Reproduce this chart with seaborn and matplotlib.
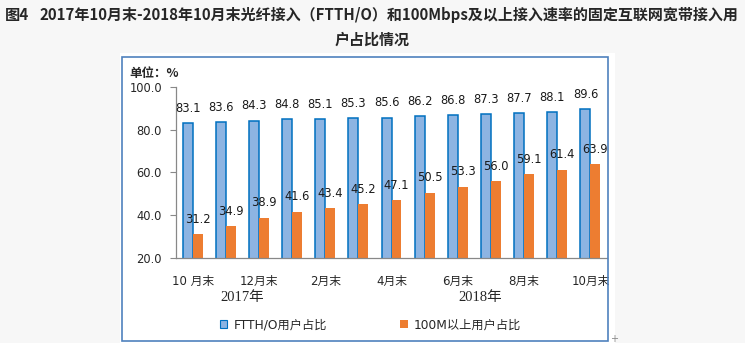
import matplotlib
matplotlib.use("Agg")
import matplotlib.pyplot as plt
import matplotlib.patches as mpatches
import matplotlib.transforms as mtrans
import seaborn as sns
import pandas as pd

# ---- data ----
months = ["10月末", "11月末", "12月末", "1月末", "2月末", "3月末", "4月末",
          "5月末", "6月末", "7月末", "8月末", "9月末", "10月末"]
tick_labels = ["10 月末", "", "12月末", "", "2月末", "", "4月末", "", "6月末", "",
               "8月末", "", "10月末"]
years = ["2017年", "2018年"]
ftth = [83.1, 83.6, 84.3, 84.8, 85.1, 85.3, 85.6, 86.2, 86.8, 87.3, 87.7, 88.1, 89.6]
m100 = [31.2, 34.9, 38.9, 41.6, 43.4, 45.2, 47.1, 50.5, 53.3, 56.0, 59.1, 61.4, 63.9]
series_names = ["FTTH/O用户占比", "100M以上用户占比"]

W, H = 745, 343
sns.set_theme(style="white")
plt.rcParams["font.family"] = ["DejaVu Sans", "Noto Sans CJK SC"]

cats = [f"{i}" for i in range(len(months))]
df = pd.DataFrame({
    "cat": cats * 2,
    "value": ftth + m100,
    "series": [series_names[0]] * len(cats) + [series_names[1]] * len(cats),
})

fig = plt.figure(figsize=(W / 100, H / 100), dpi=100)
fig.patch.set_facecolor("#f7f7f7")

# white chart panel + border
fig.add_artist(mpatches.Rectangle((120 / W, 0), (615 - 120) / W, (H - 53) / H,
                                  transform=fig.transFigure, facecolor="white",
                                  edgecolor="none", zorder=0))
fig.add_artist(mpatches.Rectangle((122 / W, 2 / H), (608 - 122) / W, (341 - 57) / H,
                                  transform=fig.transFigure, facecolor="none",
                                  edgecolor="#4f81bd", lw=1.2, zorder=1))

ax = fig.add_axes([176 / W, 1 - 258 / H, (607 - 176) / W, (258 - 87) / H])
ax.set_facecolor("none")

sns.barplot(data=df, x="cat", y="value", hue="series", order=cats,
            hue_order=series_names, palette=["#8db4e2", "#ed7d31"],
            width=0.6, saturation=1, ax=ax, legend=False)

# edges
for p in ax.containers[0]:
    p.set_edgecolor("#0070c0")
    p.set_linewidth(1.1)
for p in ax.containers[1]:
    p.set_edgecolor("none")

for c in ax.containers:
    ax.bar_label(c, fmt="%.1f", padding=6, fontsize=8.3, color="#1a1a1a")

ax.set_ylim(20, 100)
ax.set_yticks([20, 40, 60, 80, 100])
ax.set_yticklabels([f"{v:.1f}" for v in [20, 40, 60, 80, 100]], fontsize=8.3)
ax.set_xlim(-0.5, len(cats) - 0.5)
ax.set_xticks(range(len(cats)))
ax.set_xticklabels(tick_labels, fontsize=8.5)
ax.set_xticks([i - 0.5 for i in range(len(cats) + 1)], minor=True)
ax.tick_params(axis="x", which="major", length=0, pad=12)
ax.tick_params(axis="x", which="minor", length=5, width=0.8, color="#888888", direction="out")
ax.tick_params(axis="y", length=4, width=0.8, color="#888888", direction="out", pad=6, left=True)
ax.set_xlabel("")
ax.set_ylabel("")
for s in ["top", "right"]:
    ax.spines[s].set_visible(False)
for s in ["left", "bottom"]:
    ax.spines[s].set_color("#888888")
    ax.spines[s].set_linewidth(0.9)

# year labels (second level of category axis)
blend = mtrans.blended_transform_factory(ax.transData, fig.transFigure)
for yl, xp in zip(years, [1.49, 8.67]):
    ax.text(xp, 1 - 298 / H, yl, transform=blend, ha="center", va="center",
            fontsize=10.5, family=["Liberation Serif", "Noto Sans CJK SC"])

# unit label
fig.text(129 / W, 1 - 73 / H, "单位：%", ha="left", va="center", fontsize=9,
         fontweight="bold", family=["Noto Sans CJK SC", "DejaVu Sans"])

# legend
handles = [mpatches.Patch(facecolor="#8db4e2", edgecolor="#0070c0", lw=0.8),
           mpatches.Patch(facecolor="#ed7d31", edgecolor="none")]
fig.legend(handles, series_names, loc="center left",
           bbox_to_anchor=(209 / W, 1 - 325 / H), ncol=2, frameon=False,
           handlelength=0.6, handleheight=0.6, handletextpad=0.5,
           columnspacing=6.0, fontsize=8.8)

# title
tfam = ["Noto Sans CJK SC", "DejaVu Sans"]
fig.text(5 / W, 1 - 15 / H, "图4", ha="left", va="center", fontsize=11,
         fontweight="bold", family=tfam)
fig.text(40 / W, 1 - 15 / H,
         "2017年10月末-2018年10月末光纤接入（FTTH/O）和100Mbps及以上接入速率的固定互联网宽带接入用",
         ha="left", va="center", fontsize=10.8, fontweight="bold", family=tfam)
fig.text(372 / W, 1 - 40 / H, "户占比情况", ha="center", va="center", fontsize=10.8,
         fontweight="bold", family=tfam)

fig.text(614 / W, 1 - 339 / H, "+", ha="center", va="center", fontsize=7, color="#888888")

fig.savefig("out.png", dpi=100, facecolor=fig.get_facecolor())
